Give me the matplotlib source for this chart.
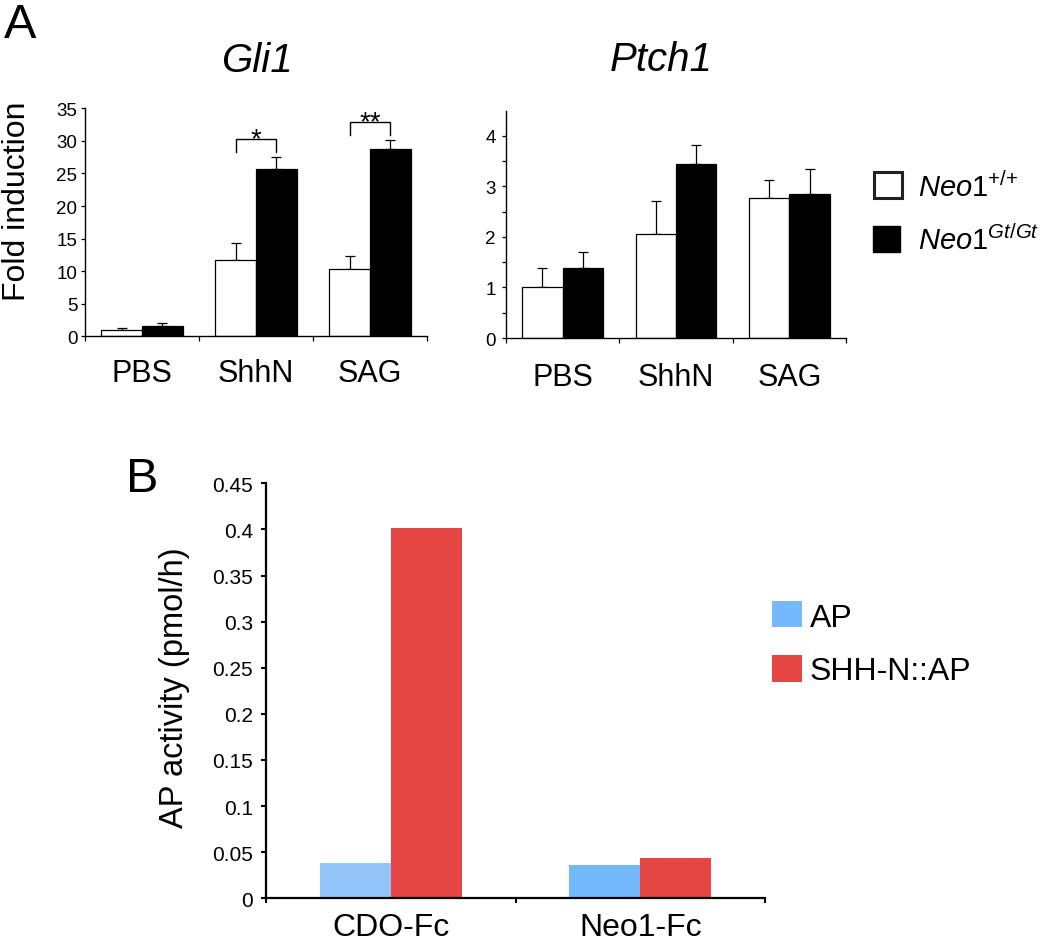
import matplotlib
matplotlib.use("Agg")
import matplotlib.pyplot as plt
from matplotlib.patches import Rectangle

plt.rcParams['font.family'] = ['Liberation Sans', 'DejaVu Sans']
plt.rcParams['mathtext.fontset'] = 'custom'
plt.rcParams['mathtext.rm'] = 'Liberation Sans'
plt.rcParams['mathtext.it'] = 'Liberation Sans:italic'
plt.rcParams['mathtext.default'] = 'it'

# ---------------- data ----------------
treatments = ['PBS', 'ShhN', 'SAG']
gli1_wt = [1.02, 11.77, 10.34]
gli1_wt_err = [0.21, 2.51, 2.04]
gli1_gt = [1.59, 25.69, 28.76]
gli1_gt_err = [0.46, 1.84, 1.38]
gli1_sig = ['', '*', '**']

ptch1_wt = [1.00, 2.05, 2.78]
ptch1_wt_err = [0.39, 0.67, 0.34]
ptch1_gt = [1.39, 3.45, 2.86]
ptch1_gt_err = [0.31, 0.37, 0.48]

genotypes = [r'$Neo1^{{+}{/}{+}}$', r'$Neo1^{Gt{/}Gt}$']

b_categories = ['CDO-Fc', 'Neo1-Fc']
ap_values = [0.038, 0.0365]
shh_ap_values = [0.402, 0.0435]
b_series = ['AP', 'SHH-N::AP']

# ---------------- figure ----------------
W, H = 1050, 945
fig = plt.figure(figsize=(W / 100, H / 100), dpi=100)


def ax_px(l, t, r, b):
    return fig.add_axes([l / W, 1 - b / H, (r - l) / W, (b - t) / H])


def fx(x):
    return x / W


def fy(y):
    return 1 - y / H


def style_axis(ax, lw=1.0):
    for s in ['top', 'right']:
        ax.spines[s].set_visible(False)
    for s in ['left', 'bottom']:
        ax.spines[s].set_linewidth(lw)
        ax.spines[s].set_color('black')


def panel_a(ax, wt, wt_err, gt, gt_err, ymax, yticks, yminor, xlabpad, tickfs):
    x = list(range(len(treatments)))
    bw = 0.357
    xw = [i - bw / 2 for i in x]
    xg = [i + bw / 2 for i in x]
    ax.bar(xw, wt, bw, color='white', edgecolor='black', linewidth=0.9, zorder=2)
    ax.bar(xg, gt, bw, color='black', edgecolor='black', linewidth=0.9, zorder=2)
    ax.errorbar(xw, wt, yerr=[[0] * len(wt), wt_err], fmt='none', ecolor='black',
                elinewidth=0.9, capsize=3.5, capthick=0.9, zorder=1)
    ax.errorbar(xg, gt, yerr=[[0] * len(gt), gt_err], fmt='none', ecolor='black',
                elinewidth=0.9, capsize=3.5, capthick=0.9, zorder=1)
    ax.set_xlim(-0.5, len(x) - 0.5)
    ax.set_ylim(0, ymax)
    ax.set_yticks(yticks)
    ax.set_yticklabels([str(v) for v in yticks])
    if yminor is not None:
        ax.set_yticks(yminor, minor=True)
    ax.set_xticks(x)
    ax.set_xticklabels(treatments, fontsize=22)
    ax.set_xticks([i - 0.5 for i in range(len(x) + 1)], minor=True)
    ax.tick_params(axis='x', which='major', length=0, pad=xlabpad)
    ax.tick_params(axis='x', which='minor', length=3.5, width=0.9, direction='out')
    ax.tick_params(axis='y', which='both', length=3, width=0.9, direction='out',
                   labelsize=tickfs, pad=2.5)
    style_axis(ax, 1.0)
    return xw, xg


# Gli1
ax1 = ax_px(85, 109.3, 427, 337.3)
xw, xg = panel_a(ax1, gli1_wt, gli1_wt_err, gli1_gt, gli1_gt_err,
                 35, list(range(0, 36, 5)), None, 15.5, 13.5)
for i, s in enumerate(gli1_sig):
    if not s:
        continue
    top = max(gli1_wt[i] + gli1_wt_err[i], gli1_gt[i] + gli1_gt_err[i])
    yb = top + 2.75
    yd = top + 0.82
    ax1.plot([xw[i], xw[i], xg[i], xg[i]], [yd, yb, yb, yd], color='black',
             lw=1.0, clip_on=False, solid_joinstyle='miter')
    ax1.annotate(s, xy=((xw[i] + xg[i]) / 2, yb), xytext=(0, -5),
                 textcoords='offset points', ha='center', va='baseline',
                 fontsize=20, annotation_clip=False)

# Ptch1
ax2 = ax_px(506, 111.7, 846, 339)
panel_a(ax2, ptch1_wt, ptch1_wt_err, ptch1_gt, ptch1_gt_err,
        4.5, [0, 1, 2, 3, 4], [0.5, 1.5, 2.5, 3.5], 17, 13.5)
ax2.tick_params(axis='y', which='both', pad=4.5)

# titles
fig.text(fx(257), fy(72), 'Gli1', fontsize=29, style='italic', ha='center', va='baseline')
fig.text(fx(661), fy(71), 'Ptch1', fontsize=29, style='italic', ha='center', va='baseline')
fig.text(fx(25), fy(201), 'Fold induction', fontsize=23, rotation=90, ha='center',
         va='baseline', rotation_mode='anchor')
fig.text(fx(4), fy(38), 'A', fontsize=35, ha='left', va='baseline')

# legend A
fig.add_artist(Rectangle((fx(874), fy(199)), 28 / W, 26 / H, transform=fig.transFigure,
                         facecolor='white', edgecolor='#222222', linewidth=2.2))
fig.add_artist(Rectangle((fx(873), fy(253)), 27 / W, 26 / H, transform=fig.transFigure,
                         facecolor='black', edgecolor='black', linewidth=1))
fig.text(fx(918), fy(197), genotypes[0], fontsize=21, ha='left', va='baseline')
fig.text(fx(918), fy(250), genotypes[1], fontsize=21, ha='left', va='baseline')

# ---------------- panel B ----------------
axb = ax_px(266, 484.3, 765, 899.3)
xb = list(range(len(b_categories)))
bwb = 0.285
ap_colors = ['#93C5FA', '#74B8FD']
axb.bar([i - bwb / 2 for i in xb], ap_values, bwb, color=ap_colors, linewidth=0, zorder=2)
axb.bar([i + bwb / 2 for i in xb], shh_ap_values, bwb, color='#E54643', linewidth=0, zorder=2)
axb.set_xlim(-0.5, len(xb) - 0.5)
axb.set_ylim(0, 0.45)
bt = [0, 0.05, 0.1, 0.15, 0.2, 0.25, 0.3, 0.35, 0.4, 0.45]
axb.set_yticks(bt)
axb.set_yticklabels(['0', '0.05', '0.1', '0.15', '0.2', '0.25', '0.3', '0.35', '0.4', '0.45'])
axb.set_xticks(xb)
axb.set_xticklabels(b_categories, fontsize=23)
axb.set_xticks([i - 0.5 for i in range(len(xb) + 1)], minor=True)
axb.tick_params(axis='x', which='major', length=0, pad=10)
axb.tick_params(axis='x', which='minor', length=3.5, width=1.5, direction='out')
axb.tick_params(axis='y', length=3.5, width=1.5, direction='out', labelsize=15, pad=6)
style_axis(axb, 1.6)

fig.text(fx(175), fy(688), 'AP activity (pmol/h)', fontsize=23.5, rotation=90,
         ha='center', va='center')
fig.text(fx(126), fy(492), 'B', fontsize=35, ha='left', va='baseline')

# legend B
fig.add_artist(Rectangle((fx(772), fy(628)), 30 / W, 26 / H, transform=fig.transFigure,
                         facecolor='#75B9FD', edgecolor='none'))
fig.add_artist(Rectangle((fx(772), fy(683)), 30 / W, 27 / H, transform=fig.transFigure,
                         facecolor='#E54643', edgecolor='none'))
fig.text(fx(810), fy(627), b_series[0], fontsize=23, ha='left', va='baseline')
fig.text(fx(810), fy(680), b_series[1], fontsize=23, ha='left', va='baseline')

fig.savefig('out.png', dpi=100, facecolor='white')
